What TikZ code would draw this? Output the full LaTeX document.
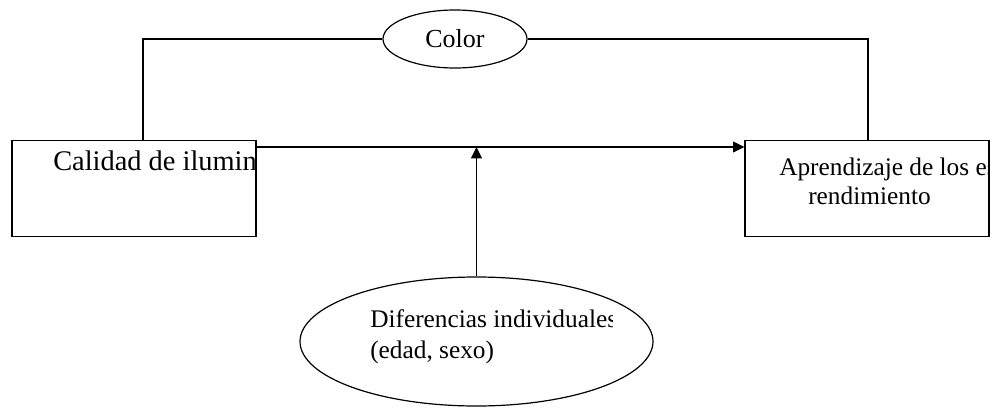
\documentclass[tikz,border=0pt]{standalone}
\usepackage{fontspec}
\setmainfont{Liberation Serif}
\usetikzlibrary{arrows.meta,shapes.geometric}
\tikzset{x=0.75pt,y=-0.75pt,
        >={Triangle[length=8.5pt,width=8pt]},
        caja/.style={draw,line width=0.9pt,inner sep=0pt,minimum width=244*0.75pt,minimum height=96*0.75pt},
        elipse/.style={draw,ellipse,line width=0.9pt,inner sep=0pt},
        linea/.style={line width=1.3pt},
        texto/.style={anchor=base west,inner sep=0pt,font=\fontsize{19pt}{22pt}\selectfont}
        }

\begin{document}
\begin{tikzpicture}
    % 画布大小与原图一致
    \useasboundingbox (0,0) rectangle (995,407);
    % 两个方框与两个椭圆
    \node[caja] (calidad) at (134,188.5) {};
    \node[caja] (aprend) at (867,188.5) {};
    \node[elipse,minimum width=144*0.75pt,minimum height=58*0.75pt,font=\fontsize{19.5pt}{22pt}\selectfont] (color) at (455,39) {Color};
    \node[elipse,minimum width=353*0.75pt,minimum height=129*0.75pt] (difer) at (476.5,341.5) {};
    % 辅助坐标:主箭头的高度,上方折线的两端
    \coordinate (eje) at (0,147);
    \coordinate (izq) at (143,38);
    \coordinate (der) at (868,38);

    % 方框里的文字被边框截断
    \begin{scope}
        \clip (calidad.south west) rectangle (calidad.north east);
        \node[texto,font=\fontsize{21.3pt}{24pt}\selectfont] (tcalidad) at (53,170) {Calidad de iluminación};
    \end{scope}
    \begin{scope}
        \clip (aprend.south west) rectangle (aprend.north east);
        \node[texto] (taprend) at (779,175) {Aprendizaje de los estudiantes y};
        \node[texto] (trend) at (808,204) {rendimiento};
    \end{scope}
    % 椭圆里的文字在 x = 612 处截断
    \begin{scope}
        \clip (difer.south west) rectangle (612,270);
        \node[texto] (tdifer) at (370,327) {Diferencias individuales};
        \node[texto] (tedad) at (370,358) {(edad, sexo)};
    \end{scope}

    % 主箭头
    \draw[linea,->] (calidad.east |- eje) -- (aprend.west |- eje);
    % 上方经过 Color 的折线
    \draw[linea] (izq |- calidad.north) |- (color.west);
    \draw[linea] (color.east) -| (der |- aprend.north);
    % 下方椭圆指向主箭头
    \draw[linea,->] (difer.north) -- (difer.north |- eje);
\end{tikzpicture}
\end{document}
